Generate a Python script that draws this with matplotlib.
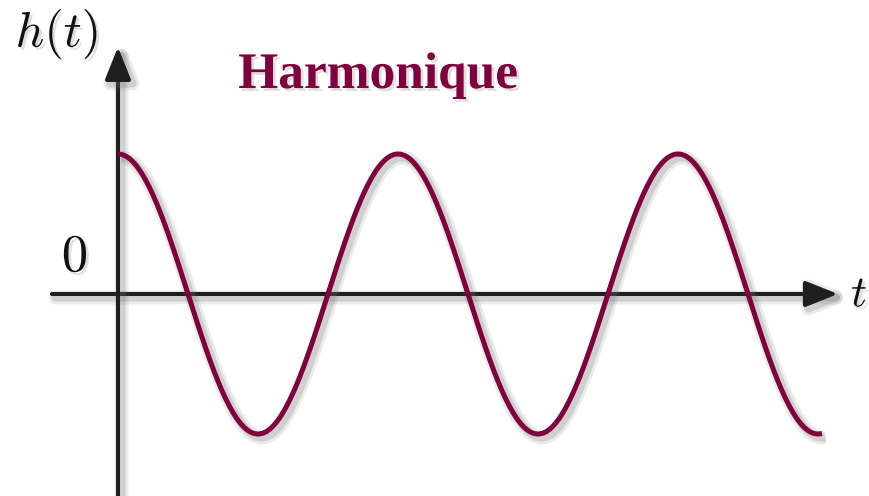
import matplotlib
import matplotlib.pyplot as plt
import matplotlib.patheffects as pe
import numpy as np

matplotlib.use("Agg")

# harmonic signal h(t) = A cos(2 pi t / T), t in units of one period
AMPLITUDE = 1.0
PERIOD = 1.0
T_END = 2.514
N_POINTS = 600

# axis extents (t units / h units)
X_AXIS_START = -0.236
X_AXIS_TIP = 2.571
Y_AXIS_TIP = 1.764

TITLE = "Harmonique"
CURVE_COLOR = "#80003f"
AXIS_COLOR = "#1e1e1e"


def line_shadow():
    return [pe.SimpleLineShadow(offset=(2.5, -2.5), shadow_color="0.45", alpha=0.14, linewidth=10),
            pe.SimpleLineShadow(offset=(2.5, -2.5), shadow_color="0.45", alpha=0.22, linewidth=6),
            pe.Normal()]


def text_shadow():
    return [pe.withSimplePatchShadow(offset=(2, -2), shadow_rgbFace="0.5", alpha=0.25)]


def draw_axis(ax, start, tip):
    ax.annotate("", xy=tip, xytext=start,
                arrowprops=dict(arrowstyle="-|>,head_length=0.9,head_width=0.36",
                                mutation_scale=22, lw=2.9, color=AXIS_COLOR,
                                shrinkA=0, shrinkB=0, path_effects=line_shadow()))


def plot_harmonic():
    plt.rcParams["mathtext.fontset"] = "cm"

    fig = plt.figure(figsize=(8.69, 4.96), dpi=100)
    ax = fig.add_axes([0, 0, 1, 1])
    ax.set_xlim(-118 / 280, 751 / 280)
    ax.set_ylim(-202 / 140, 294 / 140)
    ax.axis("off")

    draw_axis(ax, (X_AXIS_START, 0), (X_AXIS_TIP, 0))
    draw_axis(ax, (0, -1.6), (0, Y_AXIS_TIP))

    t = np.linspace(0, T_END, N_POINTS)
    h = AMPLITUDE * np.cos(2 * np.pi * t / PERIOD)
    ax.plot(t, h, color=CURVE_COLOR, lw=3.6, solid_capstyle="butt",
            path_effects=line_shadow(), zorder=3)

    ax.text(-0.218, 1.86, r"$h(t)$", fontsize=36, ha="center", va="center",
            color="#111111", path_effects=text_shadow())
    ax.text(2.618, 0.0, r"$t$", fontsize=32, ha="left", va="center",
            color="#111111", path_effects=text_shadow())
    ax.text(-0.154, 0.27, r"$0$", fontsize=38, ha="center", va="center",
            color="#111111", path_effects=text_shadow())
    ax.text(0.929, 1.471, TITLE, fontsize=37, ha="center", va="baseline",
            family="Liberation Serif", weight="bold", color=CURVE_COLOR,
            path_effects=text_shadow())

    fig.savefig("out.png", dpi=100)


if __name__ == "__main__":
    plot_harmonic()
